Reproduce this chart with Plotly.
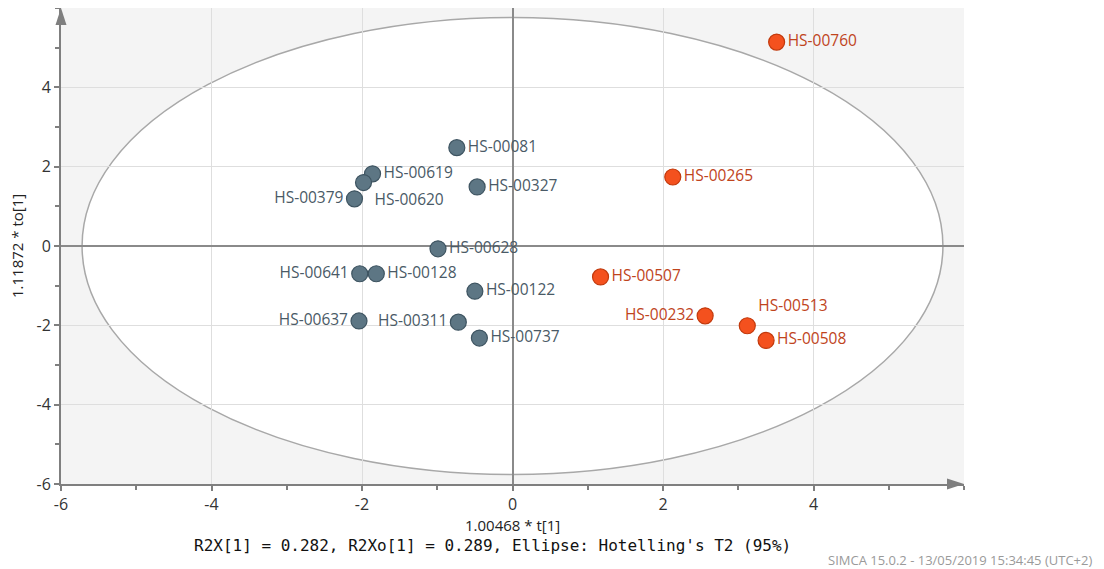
import plotly.graph_objects as go

# ---- data ----
grey_names = ["HS-00081", "HS-00619", "HS-00620", "HS-00379", "HS-00327", "HS-00628",
              "HS-00641", "HS-00128", "HS-00122", "HS-00637", "HS-00311", "HS-00737"]
grey_x = [-0.74, -1.86, -1.98, -2.10, -0.47, -0.99, -2.03, -1.81, -0.50, -2.04, -0.72, -0.44]
grey_y = [2.48, 1.82, 1.60, 1.19, 1.49, -0.07, -0.70, -0.70, -1.14, -1.89, -1.92, -2.32]
grey_pos = ["middle right", "middle right", "bottom right", "middle left", "middle right",
            "middle right", "middle left", "middle right", "middle right", "middle left",
            "middle left", "middle right"]

orange_names = ["HS-00760", "HS-00265", "HS-00507", "HS-00232", "HS-00513", "HS-00508"]
orange_x = [3.51, 2.13, 1.17, 2.56, 3.12, 3.37]
orange_y = [5.14, 1.74, -0.78, -1.76, -2.01, -2.38]
orange_pos = ["middle right", "middle right", "middle right", "middle left", "top right",
              "middle right"]

ellipse_a = 5.72
ellipse_b = 5.76

tick_vals = [-6, -4, -2, 0, 2, 4]
tick_text = ["-6", "-4", "-2", "0", "2", "4"]

x_title = "1.00468 * t[1]"
y_title = "1.11872 * to[1]"
subtitle = "R2X[1] = 0.282, R2Xo[1] = 0.289, Ellipse: Hotelling's T2 (95%)"
footer = "SIMCA 15.0.2 - 13/05/2019 15:34:45 (UTC+2)"

FONT = "Open Sans"

fig = go.Figure()

fig.add_trace(go.Scatter(
    x=grey_x, y=grey_y, mode="markers+text", text=grey_names, textposition=grey_pos,
    marker=dict(size=16, color="#5d7684", line=dict(color="#3e5461", width=1.2)),
    textfont=dict(family=FONT, size=15.5, color="#4a5a66"),
    hoverinfo="skip", cliponaxis=False,
))
fig.add_trace(go.Scatter(
    x=orange_x, y=orange_y, mode="markers+text", text=orange_names, textposition=orange_pos,
    marker=dict(size=16, color="#f4511e", line=dict(color="#c2390c", width=1.2)),
    textfont=dict(family=FONT, size=15.5, color="#c0441c"),
    hoverinfo="skip", cliponaxis=False,
))

# Hotelling ellipse
fig.add_shape(type="circle", xref="x", yref="y",
              x0=-ellipse_a, x1=ellipse_a, y0=-ellipse_b, y1=ellipse_b,
              fillcolor="white", line=dict(color="#a8a8a8", width=1.5), layer="below")

# axis arrows
fig.add_shape(type="path", xref="paper", yref="paper", xsizemode="pixel", ysizemode="pixel",
              xanchor=0, yanchor=1, path="M0,0 L-5.5,-17 L5.5,-17 Z",
              fillcolor="#7f7f7f", line=dict(width=0), layer="above")
fig.add_shape(type="path", xref="paper", yref="paper", xsizemode="pixel", ysizemode="pixel",
              xanchor=1, yanchor=0, path="M0,0 L-17,-5.5 L-17,5.5 Z",
              fillcolor="#7f7f7f", line=dict(width=0), layer="above")

axis_common = dict(
    range=[-6, 6], tickvals=tick_vals, ticktext=tick_text,
    showgrid=True, gridcolor="#dedede", gridwidth=1,
    zeroline=True, zerolinecolor="#8a8a8a", zerolinewidth=2,
    showline=True, linecolor="#7f7f7f", linewidth=2,
    ticks="outside", ticklen=5, tickcolor="#7f7f7f", tickwidth=1.5,
    tickfont=dict(family=FONT, size=16, color="#333333"),
    minor=dict(dtick=1, tick0=0, ticks="outside", ticklen=4, tickcolor="#7f7f7f",
               tickwidth=1.5, showgrid=False),
    fixedrange=True,
)
fig.update_xaxes(**axis_common)
fig.update_yaxes(**axis_common)

fig.add_annotation(text=x_title, xref="paper", yref="paper", x=0.5, y=0, yshift=-41,
                   xanchor="center", yanchor="middle",
                   showarrow=False, font=dict(family=FONT, size=15, color="#222222"))
fig.add_annotation(text=y_title, xref="paper", yref="paper", x=0, y=0.5, xshift=-44,
                   xanchor="center", yanchor="middle",
                   textangle=-90, showarrow=False, font=dict(family=FONT, size=15, color="#222222"))
fig.add_annotation(text=subtitle, xref="paper", yref="paper", x=0.478, y=0, yshift=-61,
                   xanchor="center", yanchor="middle",
                   showarrow=False, font=dict(family="DejaVu Sans Mono", size=16, color="#111111"))
fig.add_annotation(text=footer, xref="paper", yref="paper", x=1, y=0, xanchor="right",
                   yanchor="middle", xshift=130, yshift=-76, showarrow=False,
                   font=dict(family=FONT, size=13, color="#9a9a9a"))

fig.update_layout(
    width=1096, height=561,
    margin=dict(l=53, r=140, t=0, b=85, autoexpand=False),
    plot_bgcolor="#f4f4f4", paper_bgcolor="white",
    showlegend=False,
)

fig.write_html("out.html")
